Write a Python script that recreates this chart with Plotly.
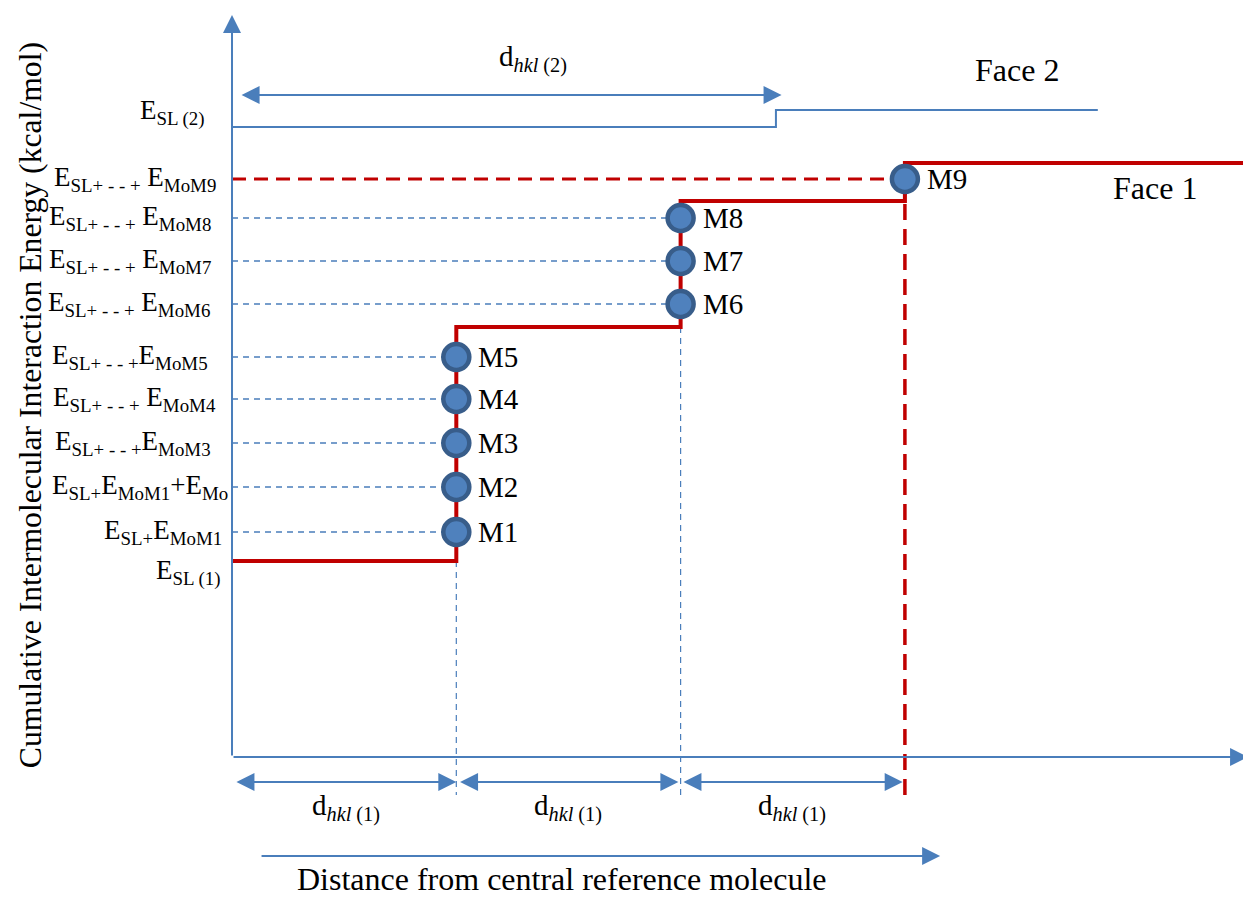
import plotly.graph_objects as go

# ---- schematic data (x: layers of d_hkl, y: cumulative energy, arbitrary units) ----
face1_x = [0, 1, 1, 2, 2, 3, 3, 4.54]
face1_y = [1.96, 1.96, 4.30, 4.30, 5.56, 5.56, 5.94, 5.94]

face2_x = [0, 2.425, 2.425, 3.86]
face2_y = [6.30, 6.30, 6.47, 6.47]

mol_names = ["M1", "M2", "M3", "M4", "M5", "M6", "M7", "M8", "M9"]
mol_x = [1, 1, 1, 1, 1, 2, 2, 2, 3]
mol_y = [2.25, 2.70, 3.14, 3.58, 4.00, 4.53, 4.96, 5.39, 5.78]

energy_labels = [
    "E<sub>SL+</sub>E<sub>MoM1</sub>",
    "E<sub>SL+</sub>E<sub>MoM1</sub>+E<sub>Mo</sub>",
    "E<sub>SL+ - - +</sub>E<sub>MoM3</sub>",
    "E<sub>SL+ - - +</sub> E<sub>MoM4</sub>",
    "E<sub>SL+ - - +</sub>E<sub>MoM5</sub>",
    "E<sub>SL+ - - +</sub> E<sub>MoM6</sub>",
    "E<sub>SL+ - - +</sub> E<sub>MoM7</sub>",
    "E<sub>SL+ - - +</sub> E<sub>MoM8</sub>",
    "E<sub>SL+ - - +</sub> E<sub>MoM9</sub>",
]
energy_label_x = [-0.036, -0.01, -0.085, -0.062, -0.10, -0.09, -0.085, -0.085, -0.062]
base_labels = ["E<sub>SL (1)</sub>", "E<sub>SL (2)</sub>"]
base_label_x = [-0.04, -0.11]
base_label_y = [1.85, 6.45]

dhkl1_label = "d<sub><i>hkl</i> (1)</sub>"
dhkl2_label = "d<sub><i>hkl</i> (2)</sub>"
dhkl1_spans = [(0.013, 1.0), (1.01, 1.99), (2.006, 2.99)]
dhkl2_span = (0.036, 2.45)

x_title = "Distance from central reference molecule"
y_title = "Cumulative Intermolecular Interaction Energy (kcal/mol)"

RED = "#C00000"
BLUE = "#4A7EBB"
FONT = "Liberation Serif"

fig = go.Figure()

# blue dashed guides from axis to each molecule (M1..M8)
for xm, ym in zip(mol_x[:8], mol_y[:8]):
    fig.add_trace(go.Scatter(x=[0, xm], y=[ym, ym], mode="lines",
                             line=dict(color=BLUE, width=1.3, dash="6px,5px"),
                             hoverinfo="skip", showlegend=False))
# blue dashed vertical guides at layer boundaries
for xv, ytop in [(1, face1_y[1]), (2, face1_y[3])]:
    fig.add_trace(go.Scatter(x=[xv, xv], y=[ytop, -0.38], mode="lines",
                             line=dict(color=BLUE, width=1.2, dash="6px,5px"),
                             hoverinfo="skip", showlegend=False))
# red dashed guides for M9
fig.add_trace(go.Scatter(x=[0, mol_x[8]], y=[mol_y[8], mol_y[8]], mode="lines",
                         line=dict(color=RED, width=3, dash="14px,8px"),
                         hoverinfo="skip", showlegend=False))
fig.add_trace(go.Scatter(x=[mol_x[8], mol_x[8]], y=[mol_y[8], -0.44], mode="lines",
                         line=dict(color=RED, width=3.5, dash="16px,9px"),
                         hoverinfo="skip", showlegend=False))

# Face 2 step line
fig.add_trace(go.Scatter(x=face2_x, y=face2_y, mode="lines",
                         line=dict(color=BLUE, width=2),
                         hoverinfo="skip", showlegend=False))
# Face 1 step line
fig.add_trace(go.Scatter(x=face1_x, y=face1_y, mode="lines",
                         line=dict(color=RED, width=4),
                         hoverinfo="skip", showlegend=False))
# molecules
fig.add_trace(go.Scatter(x=mol_x, y=mol_y, mode="markers",
                         marker=dict(size=26, color="#4F81BD",
                                     line=dict(color="#385D8A", width=4.5)),
                         hoverinfo="skip", showlegend=False))

ann = []
def text(x, y, t, size=25, xanchor="center", **kw):
    ann.append(dict(x=x, y=y, xref="x", yref="y", text=t, showarrow=False,
                    xanchor=xanchor, yanchor="middle",
                    font=dict(family=FONT, size=size, color="black"), **kw))

def arrow(x0, y0, x1, y1, both=False, width=2):
    ann.append(dict(x=x1, y=y1, ax=x0, ay=y0, xref="x", yref="y",
                    axref="x", ayref="y", text="", showarrow=True,
                    arrowhead=2, arrowsize=1.8, arrowwidth=width,
                    arrowcolor=BLUE, standoff=0, startstandoff=0,
                    startarrowhead=2, startarrowsize=1.8,
                    arrowside="end+start" if both else "end"))

# axes
arrow(0, 0, 4.53, 0)
arrow(0, 0, 0, 7.42)

# molecule labels
for n, xm, ym in zip(mol_names, mol_x, mol_y):
    text(xm, ym, n, size=29, xanchor="left", xshift=20)

# energy labels on the left
for lab, xl, ym in zip(energy_labels, energy_label_x, mol_y):
    text(xl, ym, lab, size=27, xanchor="right")
for lab, xl, yl in zip(base_labels, base_label_x, base_label_y):
    text(xl, yl, lab, size=27, xanchor="right")

# d_hkl arrows
for a, b in dhkl1_spans:
    arrow(a, -0.25, b, -0.25, both=True)
    text((a + b) / 2, -0.50, dhkl1_label, size=29)
arrow(dhkl2_span[0], 6.62, dhkl2_span[1], 6.62, both=True)
text(1.34, 6.99, dhkl2_label, size=29)

# face labels
text(3.50, 6.87, "Face 2", size=32)
text(4.115, 5.69, "Face 1", size=32)

# distance arrow and titles
arrow(0.125, -0.99, 3.157, -0.99)
text(1.47, -1.22, x_title, size=32)
text(-0.90, 3.52, y_title, size=31.7, textangle=-90)

# page body has an 8px margin: figure occupies page pixels 8..1251 x 8..897
fig.update_layout(
    width=1243, height=889,
    margin=dict(l=0, r=0, t=0, b=0),
    paper_bgcolor="white", plot_bgcolor="white",
    xaxis=dict(range=[-0.9987, 4.5430], visible=False, fixedrange=True),
    yaxis=dict(range=[-1.40, 7.49], visible=False, fixedrange=True),
    annotations=ann,
)

fig.write_html("out.html", config={"displayModeBar": False})
